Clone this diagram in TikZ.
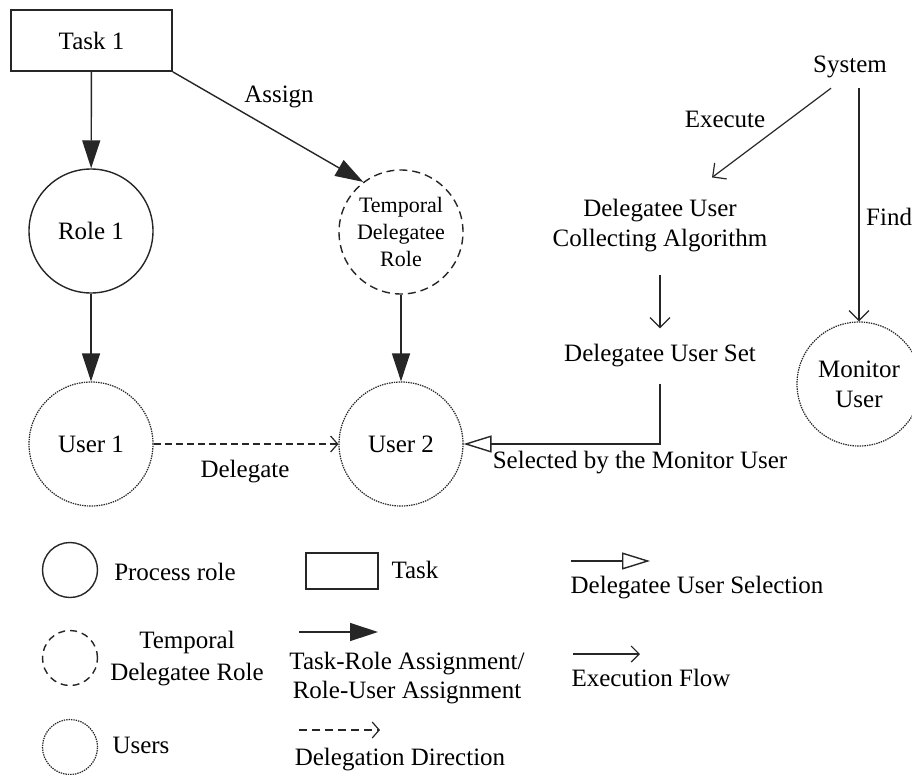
\documentclass[tikz,border=0pt]{standalone}
\usepackage{fontspec}
\setmainfont{Liberation Serif}
\usetikzlibrary{arrows.meta}
\begin{document}
\begin{tikzpicture}[x=1pt,y=-1pt,
  every node/.style={font=\fontsize{25}{30}\selectfont, text=black},
  ln/.style={line width=1.4pt, draw=black!85},
  rolec/.style={circle, draw=black!85, line width=1.4pt, minimum size=124pt, inner sep=0pt},
  tdrc/.style={rolec, dash pattern=on 8pt off 5pt},
  userc/.style={rolec, line width=1.2pt, dash pattern=on 1.4pt off 1pt},
  assignarrow/.style={ln, -{Triangle[length=28pt,width=18pt]}},
  execarrow/.style={ln, line width=1.2pt, -{Straight Barb[length=10pt,width=20pt]}},
  delarrow/.style={ln, line width=1.2pt, dash pattern=on 7pt off 4pt, -{Straight Barb[length=7pt,width=16pt]}},
  selarrow/.style={ln, -{Triangle[open,length=28pt,width=17pt]}},
  lgcirc/.style={circle, draw=black!85, line width=1.4pt, minimum size=55pt, inner sep=0pt}
]
\clip (0,0) rectangle (912,774);
\fill[white] (0,0) rectangle (912,774);

% main nodes
\node[draw=black!85, line width=1.8pt, minimum width=161pt, minimum height=61pt] (task) at (91.5,40.5) {Task 1};
\node[rolec] (role1) at (91,231) {Role 1};
\node[tdrc, font=\fontsize{22}{27}\selectfont, align=center] (tdr) at (401,232) {Temporal\\Delegatee\\Role};
\node[userc] (user1) at (91,444) {User 1};
\node[userc] (user2) at (401,444) {User 2};
\node[inner ysep=10pt] (system) at (850,67) {System};
\node[align=center, inner ysep=22pt] (algo) at (660,226) {Delegatee User\\Collecting Algorithm};
\node[inner ysep=16pt] (uset) at (660,356) {Delegatee User Set};
\node[userc, align=center] (monitor) at (859,384) {Monitor\\User};

% connectors
\draw[assignarrow] (task) -- (role1);
\draw[assignarrow] (task.south east) -- (tdr.127);
\draw[assignarrow] (role1) -- (user1);
\draw[assignarrow] (tdr) -- (user2);
\draw[delarrow] (user1) -- (user2);
\draw[execarrow] ([xshift=-19pt]system.south) -- ([xshift=52pt]algo.north);
\draw[execarrow] (system.south -| monitor.north) -- (monitor.north);
\draw[execarrow] (algo) -- (uset);
\draw[selarrow] (uset.south) |- (user2);

% labels
\node (lassign) at (279,97) {Assign};
\node (lexec) at (725,119) {Execute};
\node[anchor=west, inner sep=0pt] (lfind) at (866,217) {Find};
\node (ldel) at (245,472) {Delegate};
\node (lsel) at (640,463) {Selected by the Monitor User};

% legend
\node[lgcirc] (lgrole) at (70,570) {};
\node (lgroletxt) at (175,572) {Process role};
\node[lgcirc, dash pattern=on 7pt off 5pt] (lgtdr) at (70,658) {};
\node[align=center, font=\fontsize{25}{32}\selectfont] (lgtdrtxt) at (187,659) {Temporal\\Delegatee Role};
\node[lgcirc, line width=1.2pt, dash pattern=on 1.4pt off 1pt] (lguser) at (70,747) {};
\node (lgusertxt) at (141,745) {Users};
\node[draw=black!85, line width=1.4pt, minimum width=72pt, minimum height=36pt] (lgtask) at (342,571) {};
\node (lgtasktxt) at (415,570) {Task};

\coordinate (a1) at (299,632);
\coordinate (a2) at (378,632);
\draw[assignarrow] (a1) -- (a2);
\node[align=center, font=\fontsize{25}{29}\selectfont] (lgassigntxt) at (407,678) {Task-Role Assignment/\\Role-User Assignment};

\coordinate (d1) at (299,730);
\coordinate (d2) at (380,730);
\draw[delarrow, dash pattern=on 8pt off 5pt] (d1) -- (d2);
\node (lgdeltxt) at (400,760) {Delegation Direction};

\coordinate (s1) at (571,561);
\coordinate (s2) at (650,561);
\draw[selarrow] (s1) -- (s2);
\node (lgseltxt) at (697,588) {Delegatee User Selection};

\coordinate (e1) at (573,654);
\coordinate (e2) at (640,654);
\draw[execarrow, -{Straight Barb[length=8pt,width=16pt]}] (e1) -- (e2);
\node (lgexectxt) at (651,678) {Execution Flow};
\end{tikzpicture}
\end{document}
